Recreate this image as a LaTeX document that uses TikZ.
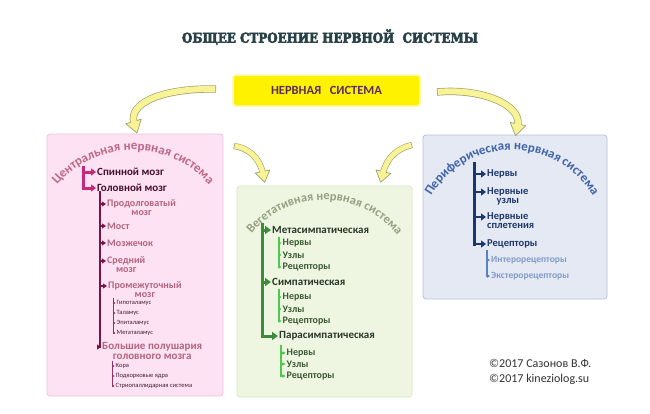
\documentclass[tikz,border=0pt]{standalone}
\usepackage{fontspec}
\setmainfont{Carlito}
\newfontfamily\titlefont{DejaVu Serif}[BoldFeatures={FakeBold=4}]
\usetikzlibrary{arrows.meta,decorations.text}
\definecolor{pkFill}{RGB}{252,226,242}
\definecolor{pkEdge}{RGB}{240,195,225}
\definecolor{pkMag}{RGB}{200,40,120}
\definecolor{pkMar}{RGB}{120,20,70}
\definecolor{pkDark}{RGB}{70,15,45}
\definecolor{pkMauve}{RGB}{180,100,125}
\definecolor{pkSmall}{RGB}{70,30,50}
\definecolor{pkThin}{RGB}{150,50,100}
\definecolor{pkCurve}{RGB}{192,104,136}
\definecolor{grFill}{RGB}{238,246,226}
\definecolor{grEdge}{RGB}{215,232,195}
\definecolor{grTrunk}{RGB}{60,140,60}
\definecolor{grThin}{RGB}{80,200,80}
\definecolor{grHead}{RGB}{40,55,40}
\definecolor{grChild}{RGB}{60,90,50}
\definecolor{grCurve}{RGB}{150,160,130}
\definecolor{blFill}{RGB}{228,233,243}
\definecolor{blEdge}{RGB}{185,195,215}
\definecolor{blTrunk}{RGB}{25,55,110}
\definecolor{blText}{RGB}{30,55,105}
\definecolor{blThin}{RGB}{90,130,190}
\definecolor{blSub}{RGB}{130,155,200}
\definecolor{blCurve}{RGB}{65,100,172}
\definecolor{arFill}{RGB}{248,243,150}
\definecolor{arEdge}{RGB}{160,160,110}
\definecolor{ttl}{RGB}{40,64,72}
\definecolor{nsText}{RGB}{90,44,94}
\definecolor{nsEdge}{RGB}{250,250,170}
\definecolor{copyT}{RGB}{50,50,50}
% #1 tail #2 c1 #3 c2 #4 end #5 base-left #6 tip #7 base-right #8 outer width #9 inner width
\newcommand\yarrow[9]{%
  \draw[line width=#8, color=arEdge] #1 .. controls #2 and #3 .. #4;
  \filldraw[fill=arFill, draw=arEdge, line width=0.7pt, line join=round] #5 -- #6 -- #7 -- cycle;
  \draw[line width=#9, color=arFill, shorten <=0.7pt] #1 .. controls #2 and #3 .. #4;
}
\begin{document}
\begin{tikzpicture}[x=1pt,y=-1pt,
  panel/.style={rectangle, rounded corners=3pt, line width=0.8pt, inner sep=0pt},
  lbl/.style={anchor=west, inner sep=1pt},
  lbl2/.style={anchor=north, inner sep=1pt},
  lbl2w/.style={anchor=north west, inner sep=1pt},
  pkMain/.style={lbl, text=pkDark, font=\fontsize{11}{13}\selectfont\bfseries},
  pkSub/.style={text=pkMauve, font=\fontsize{10}{12}\selectfont\bfseries},
  pkBig/.style={text=pkMauve, font=\fontsize{11}{13}\selectfont\bfseries},
  pkSm/.style={lbl, text=pkSmall, font=\fontsize{6.5}{8}\selectfont},
  pkTrunkA/.style={draw=pkMag, line width=3pt},
  pkArrA/.style={draw=pkMag, line width=3pt, -{Triangle[length=5pt,width=7pt]}},
  pkTrunkB/.style={draw=pkMar, line width=2pt},
  pkArrB/.style={draw=pkMar, line width=1.6pt, -{Triangle[length=4pt,width=5pt]}},
  pkTrunkC/.style={draw=pkThin, line width=0.8pt},
  pkArrC/.style={draw=pkThin, line width=0.7pt, -{Triangle[length=2pt,width=2.4pt]}},
  grMain/.style={lbl, text=grHead, font=\fontsize{11}{13}\selectfont\bfseries},
  grSub/.style={lbl, text=grChild, font=\fontsize{10}{12}\selectfont\bfseries},
  grTrunkA/.style={draw=grTrunk, line width=3pt},
  grArrA/.style={draw=grTrunk, line width=3pt, -{Triangle[length=6pt,width=8pt]}},
  grTrunkB/.style={draw=grThin, line width=1.5pt},
  grArrB/.style={draw=grThin, line width=1.3pt, -{Triangle[length=3pt,width=3.5pt]}},
  blMain/.style={text=blText, font=\fontsize{10.5}{12}\selectfont\bfseries},
  blSubT/.style={lbl, text=blSub, font=\fontsize{9.5}{11}\selectfont\bfseries},
  blTrunkA/.style={draw=blTrunk, line width=3pt},
  blArrA/.style={draw=blTrunk, line width=2.6pt, -{Triangle[length=5pt,width=7pt]}},
  blTrunkB/.style={draw=blThin, line width=1.3pt},
  blArrB/.style={draw=blThin, line width=1.1pt, -{Triangle[length=3pt,width=3.5pt]}},
  copy/.style={anchor=west, inner sep=0pt, text=copyT, font=\fontsize{12}{14}\selectfont}
]
\useasboundingbox (0,0) rectangle (650,413);
\fill[white] (0,0) rectangle (650,413);

% title and root
\node[inner sep=0pt, text=ttl] (title) at (330,37)
  {\resizebox{296pt}{13.5pt}{\titlefont\bfseries ОБЩЕЕ СТРОЕНИЕ НЕРВНОЙ\ \ СИСТЕМЫ}};
\node[panel, fill=yellow, draw=nsEdge, line width=1.5pt, minimum width=187pt, minimum height=31pt,
  text=nsText, font=\fontsize{12.5}{14}\selectfont\bfseries] (ns) at (326.5,90.5) {НЕРВНАЯ\ \ \ СИСТЕМА};

% panels
\node[panel, fill=pkFill, draw=pkEdge, minimum width=176pt, minimum height=262pt] (cns) at (135,265) {};
\node[panel, fill=grFill, draw=grEdge, minimum width=175pt, minimum height=211pt] (vns) at (324.5,291.5) {};
\node[panel, fill=blFill, draw=blEdge, minimum width=184pt, minimum height=164pt] (pns) at (515,217) {};

% block arrows
\yarrow{(216,89)}{(165,88)}{(128,102)}{(134,123)}{(125.8,123.8)}{(137,133)}{(141.2,119.2)}{7.4pt}{6pt}
\yarrow{(437,92)}{(482,88)}{(522,105)}{(517.7,125.5)}{(510.2,122.4)}{(515.5,135.7)}{(525.8,125.6)}{7.4pt}{6pt}
\yarrow{(234,146)}{(248,148)}{(259,157)}{(262.8,173)}{(255.2,173)}{(264.7,182.3)}{(269.8,170)}{6.2pt}{5pt}
\yarrow{(412,145)}{(398,148)}{(387,157)}{(383,173)}{(376,169.9)}{(380.7,182.4)}{(390.6,173.5)}{6.2pt}{5pt}

% curved titles
\path[decorate, decoration={text along path, text align=center,
  text={|\fontsize{13}{15}\selectfont\bfseries\color{pkCurve}|Центральная нервная система}}]
  (133,250) ++(-140:100) arc[start angle=-140, end angle=-40, radius=100];
\path[decorate, decoration={text along path, text align=center,
  text={|\fontsize{12.5}{15}\selectfont\bfseries\color{grCurve}|Вегетативная нервная система}}]
  (324,294) ++(-142:94) arc[start angle=-142, end angle=-37, radius=94];
\path[decorate, decoration={text along path, text align=center,
  text={|\fontsize{13}{15}\selectfont\bfseries\color{blCurve}|Периферическая нервная система}}]
  (512,244) ++(-149:94) arc[start angle=-149, end angle=-31, radius=94];

% ---- central nervous system
\coordinate (T1a) at (83,166);
\coordinate (T1b) at (83,189.5);
\node[pkMain] (sm) at (96,172) {Спинной мозг};
\node[pkMain] (gm) at (96,188) {Головной мозг};
\draw[pkTrunkA] (T1a) -- (T1b);
\draw[pkArrA] (sm.west -| T1a) -- (sm.west);
\draw[pkArrA] (gm.west -| T1a) -- (gm.west);

\coordinate (T2a) at (100,191);
\coordinate (T2b) at (100,348);
\node[lbl, pkSub] (pr1) at (106,204) {Продолговатый};
\node[lbl2, pkSub] (pr2) at (pr1.south) {мозг};
\node[lbl, pkSub] (mo) at (106,226) {Мост};
\node[lbl, pkSub] (mz) at (106,243) {Мозжечок};
\node[lbl, pkSub] (sr1) at (106,261) {Средний};
\node[lbl2, pkSub] (sr2) at (sr1.south) {мозг};
\node[lbl, pkSub] (pm1) at (107,286) {Промежуточный};
\node[lbl2, pkSub] (pm2) at (pm1.south) {мозг};
\node[lbl, pkBig] (bp1) at (101,347) {Большие полушария};
\node[lbl2, pkBig] (bp2) at (bp1.south) {головного мозга};
\draw[pkTrunkB] (T2a) -- (T2b);
\foreach \n in {pr1,mo,mz,sr1,pm1,bp1}
  \draw[pkArrB] (\n.west -| T2a) -- (\n.west);

\coordinate (T3a) at (113,298);
\coordinate (T3b) at (113,333.4);
\node[pkSm] (gt) at (115.5,303) {Гипоталамус};
\node[pkSm] (tl) at (115.5,313) {Таламус};
\node[pkSm] (et) at (115.5,323) {Эпиталамус};
\node[pkSm] (mt) at (115.5,333) {Метаталамус};
\draw[pkTrunkC] (T3a) -- (T3b);
\foreach \n in {gt,tl,et,mt}
  \draw[pkArrC] (\n.west -| T3a) -- (\n.west);

\coordinate (T4a) at (112,361);
\coordinate (T4b) at (112,386.4);
\node[pkSm] (kr) at (114.5,366) {Кора};
\node[pkSm] (pk) at (114.5,376) {Подкорковые ядра};
\node[pkSm] (st) at (114.5,386) {Стриопаллидарная система};
\draw[pkTrunkC] (T4a) -- (T4b);
\foreach \n in {kr,pk,st}
  \draw[pkArrC] (\n.west -| T4a) -- (\n.west);

% ---- autonomic nervous system
\coordinate (G1a) at (262,223);
\coordinate (G1b) at (262,337.5);
\node[grMain] (ms) at (271,230) {Метасимпатическая};
\node[grMain] (sy) at (271,282) {Симпатическая};
\node[grMain] (ps) at (278,336) {Парасимпатическая};
\draw[grTrunkA] (G1a) -- (G1b);
\foreach \n in {ms,sy,ps}
  \draw[grArrA] (\n.west -| G1a) -- (\n.west);

\coordinate (G2a) at (279,237);
\coordinate (G2b) at (279,267.7);
\node[grSub] (n1) at (281.5,243) {Нервы};
\node[grSub] (u1) at (281.5,255) {Узлы};
\node[grSub] (r1) at (281.5,267) {Рецепторы};
\draw[grTrunkB] (G2a) -- (G2b);
\foreach \n in {n1,u1,r1}
  \draw[grArrB] (\n.west -| G2a) -- (\n.west);

\coordinate (G3a) at (279,289);
\coordinate (G3b) at (279,321.7);
\node[grSub] (n2) at (281.5,297) {Нервы};
\node[grSub] (u2) at (281.5,309) {Узлы};
\node[grSub] (r2) at (281.5,321) {Рецепторы};
\draw[grTrunkB] (G3a) -- (G3b);
\foreach \n in {n2,u2,r2}
  \draw[grArrB] (\n.west -| G3a) -- (\n.west);

\coordinate (G4a) at (281,345);
\coordinate (G4b) at (281,376.7);
\node[grSub] (n3) at (285.5,353) {Нервы};
\node[grSub] (u3) at (285.5,364) {Узлы};
\node[grSub] (r3) at (285.5,376) {Рецепторы};
\draw[grTrunkB] (G4a) -- (G4b);
\foreach \n in {n3,u3,r3}
  \draw[grArrB] (\n.west -| G4a) -- (\n.west);

% ---- peripheral nervous system
\coordinate (B1a) at (474,162);
\coordinate (B1b) at (474,245.5);
\node[lbl, blMain] (nv) at (486,174) {Нервы};
\node[lbl, blMain] (nu1) at (486,192) {Нервные};
\node[lbl2, blMain] (nu2) at (nu1.south) {узлы};
\node[lbl, blMain] (np1) at (486,217) {Нервные};
\node[lbl2w, blMain] (np2) at (np1.south west) {сплетения};
\node[lbl, blMain] (rc) at (486,244) {Рецепторы};
\draw[blTrunkA] (B1a) -- (B1b);
\foreach \n in {nv,nu1,np1,rc}
  \draw[blArrA] (\n.west -| B1a) -- (\n.west);

\coordinate (B2a) at (487,250);
\coordinate (B2b) at (487,276.6);
\node[blSubT] (ir) at (490,260) {Интерорецепторы};
\node[blSubT] (er) at (490,276) {Экстерорецепторы};
\draw[blTrunkB] (B2a) -- (B2b);
\foreach \n in {ir,er}
  \draw[blArrB] (\n.west -| B2a) -- (\n.west);

% copyright
\node[copy] (c1) at (489,363) {©2017 Сазонов В.Ф.};
\node[copy] (c2) at (489,379) {©2017 kineziolog.su};
\end{tikzpicture}
\end{document}
